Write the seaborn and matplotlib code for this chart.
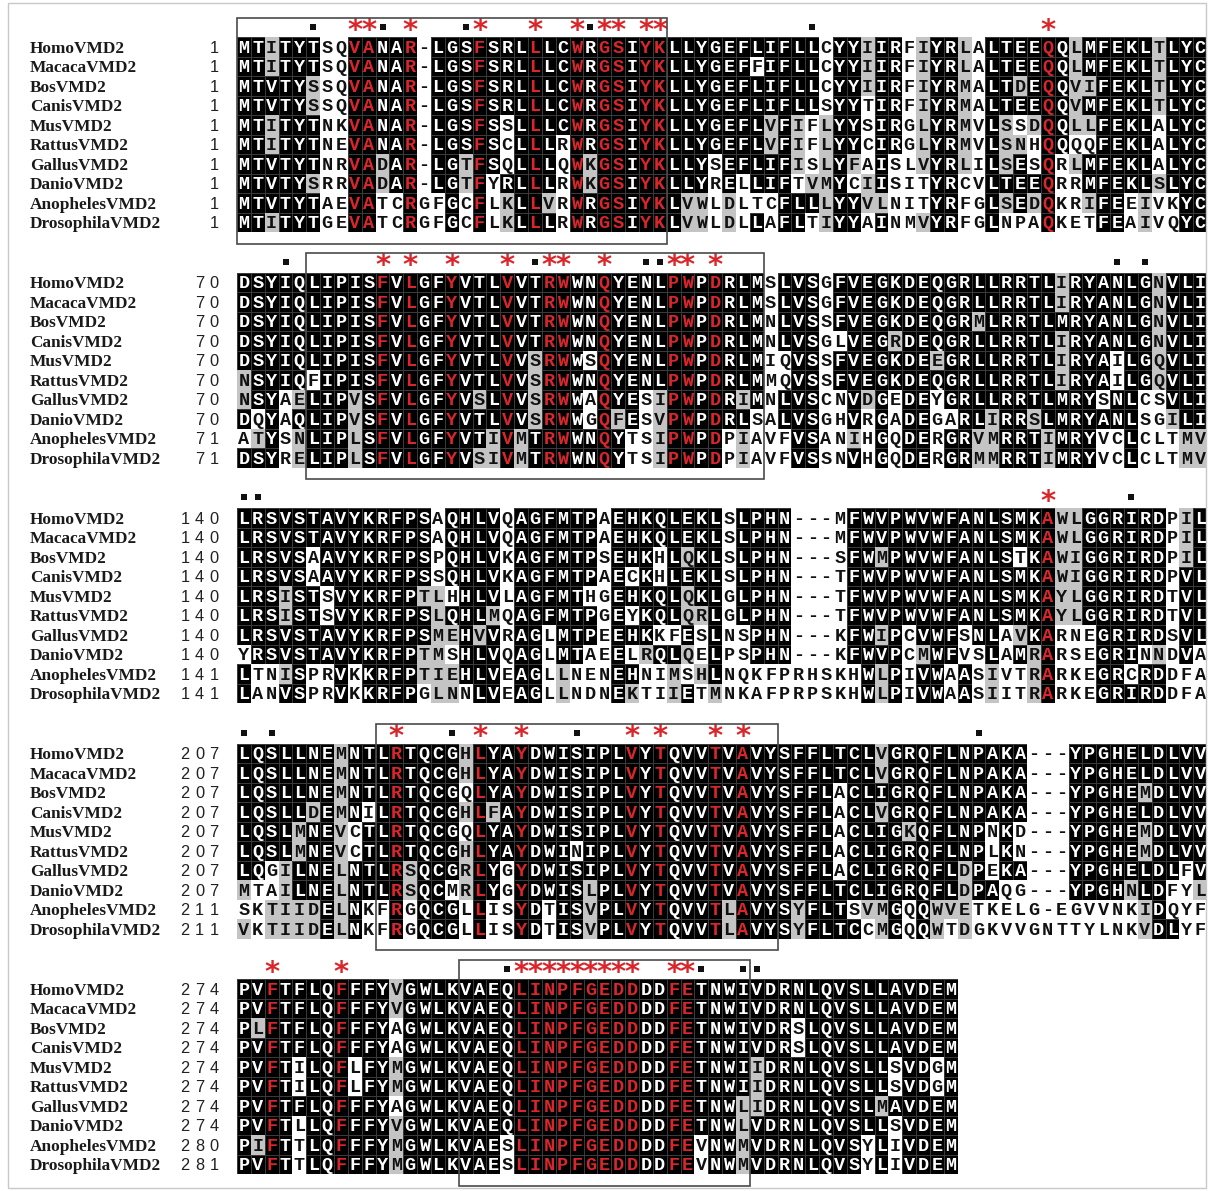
import matplotlib
matplotlib.use("Agg")
import numpy as np
import pandas as pd
import matplotlib.pyplot as plt
import seaborn as sns
from matplotlib.colors import ListedColormap
from matplotlib.patches import Rectangle

# ---------------------------------------------------------------- data
names = ["HomoVMD2", "MacacaVMD2", "BosVMD2", "CanisVMD2", "MusVMD2",
         "RattusVMD2", "GallusVMD2", "DanioVMD2", "AnophelesVMD2",
         "DrosophilaVMD2"]

block1 = [
    "MTITYTSQVANAR-LGSFSRLLLCWRGSIYKLLYGEFLIFLLCYYIIRFIYRLALTEEQQLMFEKLTLYC",
    "MTITYTSQVANAR-LGSFSRLLLCWRGSIYKLLYGEFFIFLLCYYIIRFIYRLALTEEQQLMFEKLTLYC",
    "MTVTYSSQVANAR-LGSFSRLLLCWRGSIYKLLYGEFLIFLLCYYIIRFIYRMALTDEQQVIFEKLTLYC",
    "MTVTYSSQVANAR-LGSFSRLLLCWRGSIYKLLYGEFLIFLLSYYTIRFIYRMALTEEQQVMFEKLTLYC",
    "MTITYTNKVANAR-LGSFSSLLLCWRGSIYKLLYGEFLVFIFLYYSIRGLYRMVLSSDQQLLFEKLALYC",
    "MTITYTNEVANAR-LGSFSCLLLRWRGSIYKLLYGEFLVFIFLYYCIRGLYRMVLSNHQQQQFEKLALYC",
    "MTVTYTNRVADAR-LGTFSQLLLQWKGSIYKLLYSEFLIFISLYFAISLVYRLILSESQRLMFEKLALYC",
    "MTVTYSRRVADAR-LGTFYRLLLRWKGSIYKLLYRELLIFTVMYCIISITYRCVLTEEQRRMFEKLSLYC",
    "MTVTYTAEVATCRGFGCFLKLLVRWRGSIYKLVWLDLTCFLLLYYVLNITYRFGLSEDQKRIFEEIVKYC",
    "MTITYTGEVATCRGFGCFLKLLLRWRGSIYKLVWLDLLAFLTIYYAINMVYRFGLNPAQKETFEAIVQYC",
]
block2 = [
    "DSYIQLIPISFVLGFYVTLVVTRWWNQYENLPWPDRLMSLVSGFVEGKDEQGRLLRRTLIRYANLGNVLI",
    "DSYIQLIPISFVLGFYVTLVVTRWWNQYENLPWPDRLMSLVSGFVEGKDEQGRLLRRTLIRYANLGNVLI",
    "DSYIQLIPISFVLGFYVTLVVTRWWNQYENLPWPDRLMNLVSSFVEGKDEQGRMLRRTLMRYANLGNVLI",
    "DSYIQLIPISFVLGFYVTLVVTRWWNQYENLPWPDRLMNLVSGLVEGRDEQGRLLRRTLIRYANLGNVLI",
    "DSYIQLIPISFVLGFYVTLVVSRWWSQYENLPWPDRLMIQVSSFVEGKDEEGRLLRRTLIRYAILGQVLI",
    "NSYIQFIPISFVLGFYVTLVVSRWWNQYENLPWPDRLMMQVSSFVEGKDEQGRLLRRTLIRYAILGQVLI",
    "NSYAELIPVSFVLGFYVSLVVSRWWAQYESIPWPDRIMNLVSCNVDGEDEYGRLLRRTLMRYSNLCSVLI",
    "DQYAQLIPVSFVLGFYVTLVVSRWWGQFESVPWPDRLSALVSGHVRGADEGARLIRRSLMRYANLSGILI",
    "ATYSNLIPLSFVLGFYVTIVMTRWWNQYTSIPWPDPIAVFVSANIHGQDERGRVMRRTIMRYVCLCLTMV",
    "DSYRELIPLSFVLGFYVSIVMTRWWNQYTSIPWPDPIAVFVSSNVHGQDERGRMMRRTIMRYVCLCLTMV",
]
block3 = [
    "LRSVSTAVYKRFPSAQHLVQAGFMTPAEHKQLEKLSLPHN---MFWVPWVWFANLSMKAWLGGRIRDPIL",
    "LRSVSTAVYKRFPSAQHLVQAGFMTPAEHKQLEKLSLPHN---MFWVPWVWFANLSMKAWLGGRIRDPIL",
    "LRSVSAAVYKRFPSPQHLVKAGFMTPSEHKHLQKLSLPHN---SFWMPWVWFANLSTKAWIGGRIRDPIL",
    "LRSVSAAVYKRFPSSQHLVKAGFMTPAECKHLEKLSLPHN---TFWVPWVWFANLSMKAWIGGRIRDPVL",
    "LRSISTSVYKRFPTLHHLVLAGFMTHGEHKQLQKLGLPHN---TFWVPWVWFANLSMKAYLGGRIRDTVL",
    "LRSISTSVYKRFPSLQHLMQAGFMTPGEYKQLQRLGLPHN---TFWVPWVWFANLSMKAYLGGRIRDTVL",
    "LRSVSTAVYKRFPSMEHVVRAGLMTPEEHKKFESLNSPHN---KFWIPCVWFSNLAVKARNEGRIRDSVL",
    "YRSVSTAVYKRFPTMSHLVQAGLMTAEELRQLQELPSPHN---KFWVPCMWFVSLAMRARSEGRINNDVA",
    "LTNISPRVKKRFPTIEHLVEAGLLNENEHNIMSHLNQKFPRHSKHWLPIVWAASIVTRARKEGRCRDDFA",
    "LANVSPRVKKRFPGLNNLVEAGLLNDNEKTIIETMNKAFPRPSKHWLPIVWAASIITRARKEGRIRDDFA",
]
block4 = [
    "LQSLLNEMNTLRTQCGHLYAYDWISIPLVYTQVVTVAVYSFFLTCLVGRQFLNPAKA---YPGHELDLVV",
    "LQSLLNEMNTLRTQCGHLYAYDWISIPLVYTQVVTVAVYSFFLTCLVGRQFLNPAKA---YPGHELDLVV",
    "LQSLLNEMNTLRTQCGQLYAYDWISIPLVYTQVVTVAVYSFFLACLIGRQFLNPAKA---YPGHEMDLVV",
    "LQSLLDEMNILRTQCGHLFAYDWISIPLVYTQVVTVAVYSFFLACLVGRQFLNPAKA---YPGHELDLVV",
    "LQSLMNEVCTLRTQCGQLYAYDWISIPLVYTQVVTVAVYSFFLACLIGKQFLNPNKD---YPGHEMDLVV",
    "LQSLMNEVCTLRTQCGHLYAYDWINIPLVYTQVVTVAVYSFFLACLIGRQFLNPLKN---YPGHEMDLVV",
    "LQGILNELNTLRSQCGRLYGYDWISIPLVYTQVVTVAVYSFFLACLIGRQFLDPEKA---YPGHELDLFV",
    "MTAILNELNTLRSQCMRLYGYDWISLPLVYTQVVTVAVYSFFLTCLIGRQFLDPAQG---YPGHNLDFYL",
    "SKTIIDELNKFRGQCGLLISYDTISVPLVYTQVVTLAVYSYFLTSVMGQQWVETKELG-EGVVNKIDQYF",
    "VKTIIDELNKFRGQCGLLISYDTISVPLVYTQVVTLAVYSYFLTCCMGQQWTDGKVVGNTTYLNKVDLYF",
]
block5 = [
    "PVFTFLQFFFYVGWLKVAEQLINPFGEDDDDFETNWIVDRNLQVSLLAVDEM",
    "PVFTFLQFFFYVGWLKVAEQLINPFGEDDDDFETNWIVDRNLQVSLLAVDEM",
    "PLFTFLQFFFYAGWLKVAEQLINPFGEDDDDFETNWIVDRSLQVSLLAVDEM",
    "PVFTFLQFFFYAGWLKVAEQLINPFGEDDDDFETNWIVDRSLQVSLLAVDEM",
    "PVFTILQFLFYMGWLKVAEQLINPFGEDDDDFETNWIIDRNLQVSLLSVDGM",
    "PVFTILQFLFYMGWLKVAEQLINPFGEDDDDFETNWIIDRNLQVSLLSVDGM",
    "PVFTFLQFFFYAGWLKVAEQLINPFGEDDDDFETNWLIDRNLQVSLMAVDEM",
    "PVFTLLQFFFYVGWLKVAEQLINPFGEDDDDFETNWLVDRNLQVSLLSVDEM",
    "PIFTTLQFFFYMGWLKVAESLINPFGEDDDDFEVNWMVDRNLQVSYLIVDEM",
    "PVFTTLQFFFYMGWLKVAESLINPFGEDDDDFEVNWMVDRNLQVSYLIVDEM",
]

start1 = [1, 1, 1, 1, 1, 1, 1, 1, 1, 1]
start2 = [70, 70, 70, 70, 70, 70, 70, 70, 71, 71]
start3 = [140, 140, 140, 140, 140, 140, 140, 140, 141, 141]
start4 = [207, 207, 207, 207, 207, 207, 207, 207, 211, 211]
start5 = [274, 274, 274, 274, 274, 274, 274, 274, 280, 281]

# alignment columns (1-based) flagged above each block
stars1 = [9, 10, 13, 18, 22, 25, 27, 28, 30, 31, 59]
stars2 = [11, 13, 16, 20, 23, 24, 27, 32, 33, 35]
stars3 = [59]
stars4 = [12, 18, 21, 29, 31, 35, 37]
stars5 = [3, 8, 21, 22, 23, 24, 25, 26, 27, 28, 29, 32, 33]

squares1 = [6, 11, 17, 26, 42]
squares2 = [4, 22, 30, 31, 64, 66]
squares3 = [1, 2, 65]
squares4 = [1, 3, 16, 25, 54]
squares5 = [20, 34, 37, 38]

# boxed column ranges (first, last) per block
boxes1 = (1, 31)
boxes2 = (6, 38)
boxes3 = None
boxes4 = (11, 39)
boxes5 = (17, 37)

blocks = [block1, block2, block3, block4, block5]
starts = [start1, start2, start3, start4, start5]
stars = [stars1, stars2, stars3, stars4, stars5]
squares = [squares1, squares2, squares3, squares4, squares5]
boxes = [boxes1, boxes2, boxes3, boxes4, boxes5]

# ---------------------------------------------------------------- shading
# residues counted as similar to an identity consensus
SIM_GROUPS = ["ILVM", "FYW", "KRH", "DENQ", "ST"]
# stricter classes used when a column has no identity consensus
CLASS_GROUPS = ["ILVM", "FYW", "KRH", "DE", "NQ", "ST"]


def related(a, b, groups):
    return a == b or any(a in g and b in g for g in groups)


def shade_column(col, frac=0.5):
    """0 = plain, 1 = similar (grey), 2 = identical (black)."""
    n = len(col)
    levels = [0] * n
    res = [c for c in col if c != "-"]
    if not res:
        return levels
    counts = {r: res.count(r) for r in set(res)}
    cons = max(counts, key=lambda r: (counts[r], r))
    if counts[cons] >= frac * n:
        for i, c in enumerate(col):
            if c == cons:
                levels[i] = 2
            elif c != "-" and related(c, cons, SIM_GROUPS):
                levels[i] = 1
        return levels
    sims = {r: sum(related(r, c, CLASS_GROUPS) for c in res) for r in counts}
    cons = max(sims, key=lambda r: (sims[r], counts[r], r))
    if sims[cons] >= frac * n:
        for i, c in enumerate(col):
            if c != "-" and related(c, cons, CLASS_GROUPS):
                levels[i] = 1
    return levels


def shade_block(seqs):
    ncol = len(seqs[0])
    cols = [shade_column([s[j] for s in seqs]) for j in range(ncol)]
    return np.array(cols).T


# ---------------------------------------------------------------- layout
W, H, DPI = 1213, 1191, 100
CELL_W = 13.86
CELL_H = 19.5
X0 = 237.0
ROW0 = 47.0            # centre of first row, first block
BLOCK_STEP = 235.5
NAME_X = 30.0

GREY = "#c4c4c4"
RED = "#d9262b"
TXT = "#111111"
SHADES = ListedColormap(["white", GREY, "black"])

fig = plt.figure(figsize=(W / DPI, H / DPI), dpi=DPI)
fig.patch.set_facecolor("white")

# thin outer frame
fig.add_artist(Rectangle((8 / W, 3 / H), (1206 - 8) / W, (1188 - 3) / H,
                         transform=fig.transFigure, fill=False,
                         edgecolor="#c8c8c8", linewidth=1.0))

for b, seqs in enumerate(blocks):
    nrow, ncol = len(seqs), len(seqs[0])
    lev = shade_block(seqs)
    df = pd.DataFrame(lev, index=names, columns=range(1, ncol + 1))

    top_px = ROW0 - CELL_H / 2 + b * BLOCK_STEP
    ax = fig.add_axes([X0 / W, 1 - (top_px + nrow * CELL_H) / H,
                       ncol * CELL_W / W, nrow * CELL_H / H])

    # all cells with faint dark separators ...
    sns.heatmap(df, ax=ax, cmap=SHADES, vmin=-0.5, vmax=2.5, cbar=False,
                linewidths=0.45, linecolor="#3a3a3a",
                xticklabels=False, yticklabels=False)
    # ... then the white / grey cells again without them, so the
    # separators only remain around the identical (black) cells
    sns.heatmap(df, ax=ax, mask=(df == 2), cmap=SHADES, vmin=-0.5,
                vmax=2.5, cbar=False, xticklabels=False, yticklabels=False)
    ax.set_xlabel("")
    ax.set_ylabel("")
    for sp in ax.spines.values():
        sp.set_visible(False)

    starred = set(stars[b])
    cap_off = 0.30
    for i, s in enumerate(seqs):
        for j, ch in enumerate(s):
            if (j + 1) in starred and ch != "-":
                color = RED
            elif lev[i, j] == 2:
                color = "white"
            else:
                color = TXT
            ax.text(j + 0.5, i + 0.5 + cap_off, ch, ha="center",
                    va="baseline", family="Liberation Mono",
                    weight="bold", fontsize=13.3, color=color)
        # sequence name
        ax.text(-(X0 - NAME_X) / CELL_W, i + 0.5 + 0.29, names[i],
                ha="left", va="baseline", family="Liberation Serif",
                weight="bold", fontsize=12.4, color="#1a1a1a",
                clip_on=False)
        # start position, one digit per cell
        digits = str(starts[b][i])
        for k, d in enumerate(reversed(digits)):
            ax.text(-1.66 - 1.045 * k, i + 0.5 + 0.29, d, ha="center",
                    va="baseline", family="Liberation Sans",
                    fontsize=11.8, color="#222222", clip_on=False)

    # markers above the block
    mark_y = 0.5 - 20.5 / CELL_H
    for c in stars[b]:
        ax.text(c - 0.5, mark_y + 0.62, "*", ha="center", va="baseline",
                family="DejaVu Sans", weight="bold", fontsize=21,
                color=RED, clip_on=False)
    if squares[b]:
        ax.scatter([c - 0.5 for c in squares[b]],
                   [mark_y] * len(squares[b]), marker="s", s=24,
                   color="#111111", linewidths=0, clip_on=False, zorder=5)

    if boxes[b] is not None:
        c0, c1 = boxes[b]
        y_top = 0.5 - 29.5 / CELL_H
        y_bot = nrow - 0.5 + 21.0 / CELL_H
        ax.add_patch(Rectangle((c0 - 1, y_top), c1 - c0 + 1, y_bot - y_top,
                               fill=False, edgecolor="#4a4a4a",
                               linewidth=1.2, clip_on=False, zorder=6))

fig.savefig("out.png", dpi=DPI, facecolor="white")
